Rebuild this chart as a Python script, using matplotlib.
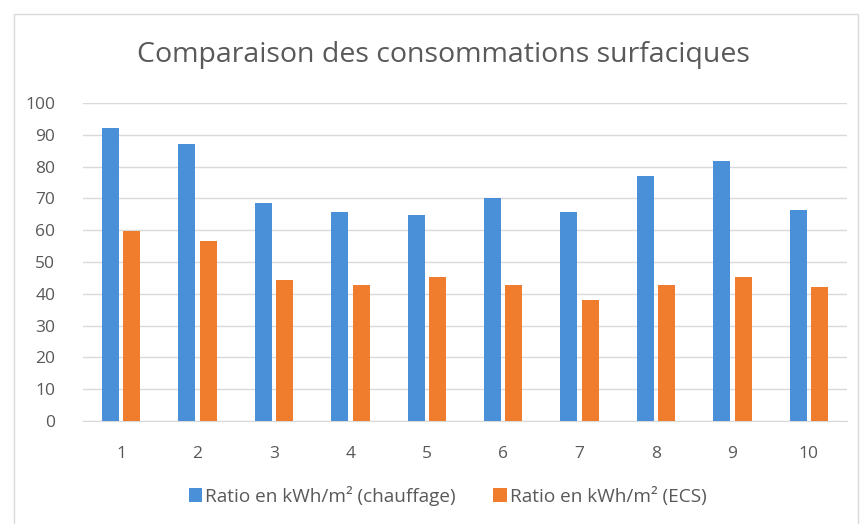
import numpy as np
import matplotlib.pyplot as plt
from matplotlib.patches import Rectangle

categories = ['1', '2', '3', '4', '5', '6', '7', '8', '9', '10']
chauffage = [92.1, 87.1, 68.5, 65.8, 64.7, 70.1, 65.6, 76.9, 81.8, 66.2]
ecs = [59.9, 56.6, 44.2, 42.8, 45.4, 42.8, 37.9, 42.8, 45.2, 42.1]
y_ticks = list(range(0, 101, 10))

blue = '#4a90d9'
orange = '#ef7d2d'
grey_text = '#595959'

plt.rcParams['font.family'] = ['Open Sans', 'DejaVu Sans']

fig = plt.figure(figsize=(8.61, 5.24), dpi=100)
ax = fig.add_axes([83 / 861, 1 - 421 / 524, 764 / 861, 318 / 524])

x = np.arange(len(categories))
width = 0.222
off = 0.141
ax.bar(x - off, chauffage, width, color=blue, label='Ratio en kWh/m² (chauffage)', zorder=3)
ax.bar(x + off, ecs, width, color=orange, label='Ratio en kWh/m² (ECS)', zorder=3)

ax.set_xlim(-0.5, len(categories) - 0.5)
ax.set_ylim(0, 100)
ax.set_yticks(y_ticks)
ax.set_xticks(x)
ax.set_xticklabels(categories)
ax.grid(axis='y', color='#d9d9d9', linewidth=1, zorder=0)
for side in ['top', 'right', 'left']:
    ax.spines[side].set_visible(False)
ax.spines['bottom'].set_color('#d9d9d9')
ax.tick_params(length=0, labelsize=12.5, colors=grey_text)
ax.tick_params(axis='x', pad=18)
ax.tick_params(axis='y', pad=20)
for lbl in ax.get_yticklabels():
    lbl.set_horizontalalignment('right')

fig.text(443 / 861, 1 - 55 / 524, 'Comparaison des consommations surfaciques',
         ha='center', va='center', fontsize=20.5, color=grey_text)

ax.legend(loc='center', bbox_to_anchor=(0.477, -0.235), ncol=2, frameon=False,
          fontsize=13.7, handlelength=0.7, handleheight=0.7, handletextpad=0.15,
          columnspacing=2.0, labelcolor=grey_text)

# light frame around the chart
fig.patches.append(Rectangle((14 / 861, -0.01), (858 - 14) / 861, 1 - 14 / 524 + 0.01,
                             transform=fig.transFigure, fill=False,
                             edgecolor='#d9d9d9', linewidth=1))

fig.savefig('out.png', dpi=100, facecolor='white')
